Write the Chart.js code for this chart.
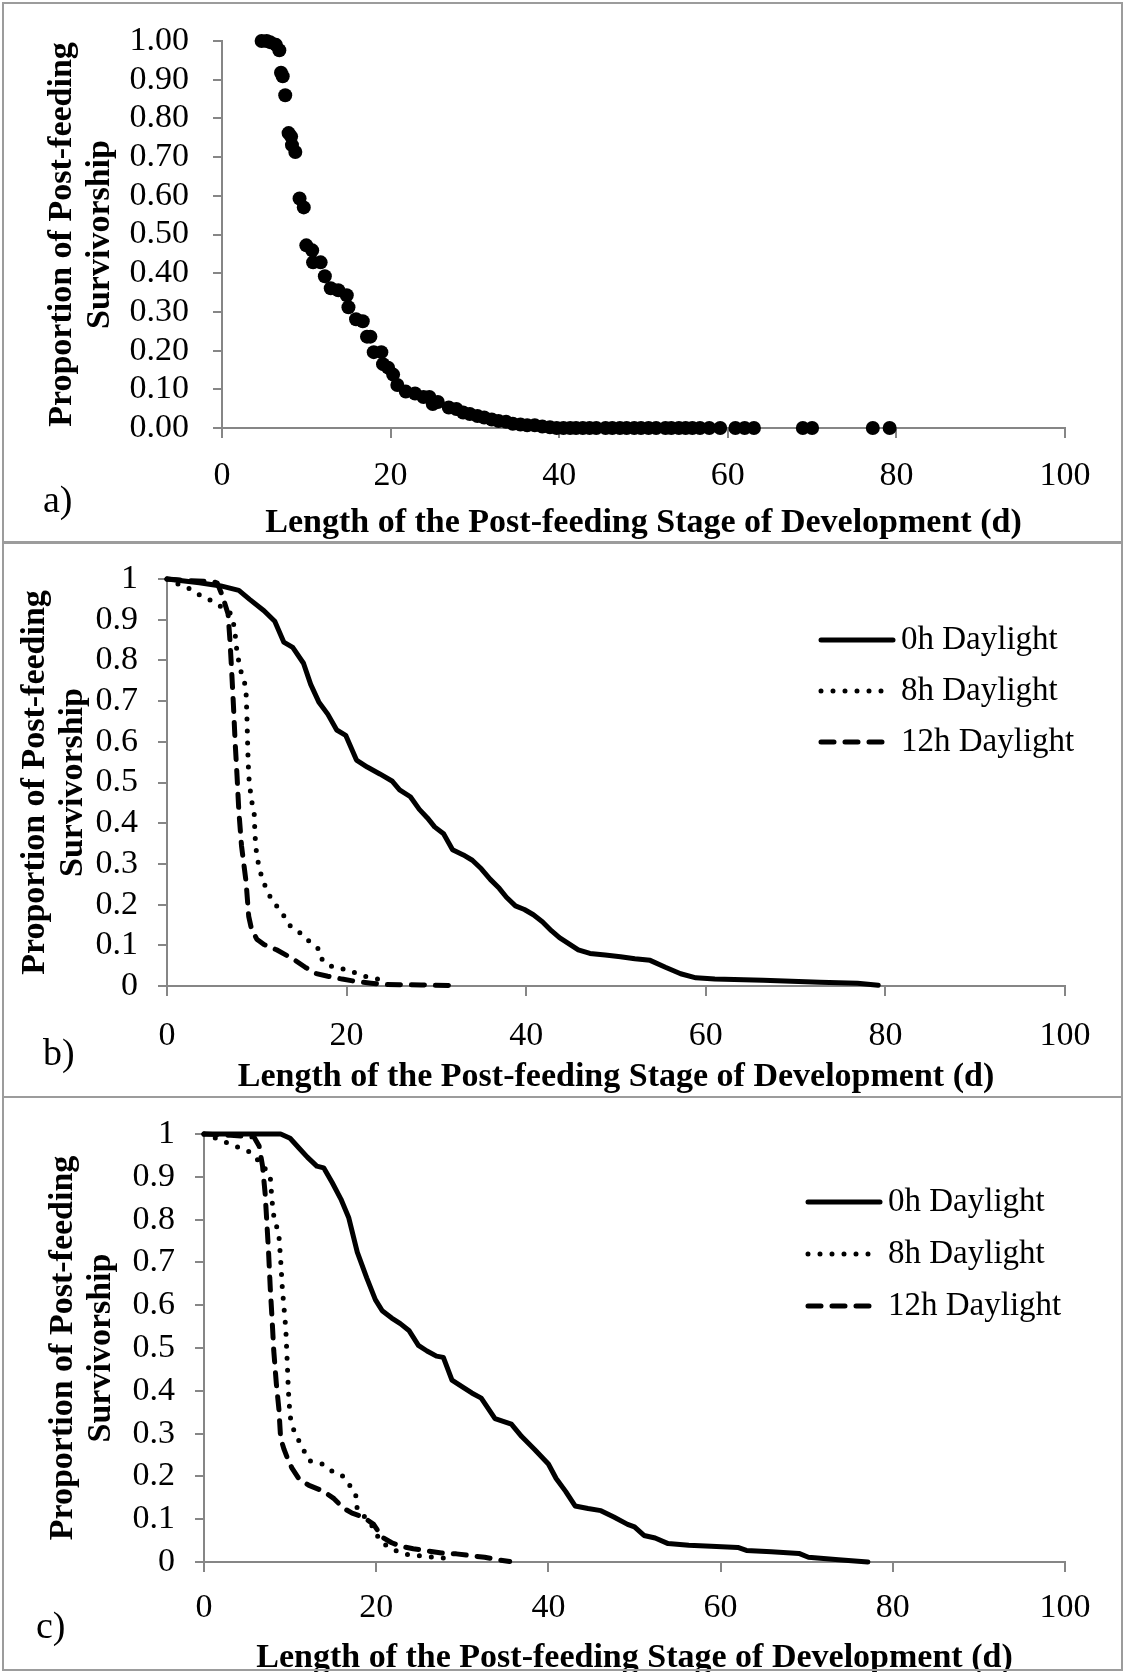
<!DOCTYPE html>
<html>
<head>
<meta charset="utf-8">
<script src="https://cdn.jsdelivr.net/npm/chart.js@4.4.1/dist/chart.umd.min.js"></script>
<style>
  body { margin: 0; background: #fff; }
  #page { position: relative; width: 1125px; height: 1672px; overflow: hidden; font-family: "Liberation Serif", serif; }
  #page canvas { position: absolute; left: 0; }
  .frame { position: absolute; border: 2px solid #9c9c9c; box-sizing: border-box; pointer-events: none; }
  .tag { position: absolute; font-size: 38px; line-height: 38px; color: #000; }
</style>
</head>
<body>
<div id="page">
  <canvas id="chartA" width="1125" height="542" style="top:0"></canvas>
  <canvas id="chartB" width="1125" height="555" style="top:542px"></canvas>
  <canvas id="chartC" width="1125" height="575" style="top:1097px"></canvas>
  <div class="frame" style="left:2px;top:2px;width:1121px;height:542px"></div>
  <div class="frame" style="left:2px;top:541px;width:1121px;height:557px"></div>
  <div class="frame" style="left:2px;top:1096px;width:1121px;height:575px"></div>
  <div class="tag" style="left:43px;top:480px">a)</div>
  <div class="tag" style="left:43px;top:1033px">b)</div>
  <div class="tag" style="left:36px;top:1606px">c)</div>
</div>
<script>
// panel a - individual larvae
const aDays = [4.7, 5.3, 5.7, 6.4, 6.8, 7.0, 7.2, 7.5, 7.9, 8.2, 8.3, 8.7, 9.2, 9.7, 10.0, 10.7, 10.8, 11.7,
  12.2, 12.9, 13.8, 14.8, 15.0, 15.9, 16.7, 17.2, 17.6, 18.0, 18.9, 19.1, 19.7, 20.3, 20.8, 21.8, 22.9,
  23.9, 24.6, 25.0, 25.6, 26.9, 27.8, 28.6, 29.4, 30.3, 31.1, 32.0, 32.8, 33.7, 34.5, 35.4, 36.2, 37.1,
  38.0, 38.9, 39.7, 40.5, 41.3, 42.0, 42.8, 43.6, 44.4, 45.5, 46.3, 47.2, 48.0, 48.9, 49.7, 50.6, 51.5,
  52.6, 53.3, 54.2, 55.0, 55.8, 56.7, 57.8, 59.1, 60.9, 62.0, 63.1, 68.9, 70.0, 77.2, 79.2];
const aSurv = [1.0, 1.0, 0.997, 0.99, 0.976, 0.918, 0.909, 0.86, 0.762, 0.753, 0.731, 0.713, 0.593, 0.57, 0.472,
  0.459, 0.428, 0.428, 0.392, 0.361, 0.356, 0.343, 0.312, 0.281, 0.276, 0.236, 0.236, 0.196, 0.196, 0.165,
  0.156, 0.138, 0.111, 0.094, 0.089, 0.08, 0.08, 0.062, 0.067, 0.053, 0.049, 0.04, 0.036, 0.031, 0.027,
  0.022, 0.018, 0.016, 0.011, 0.009, 0.007, 0.007, 0.004, 0.002, 0, 0, 0, 0, 0, 0, 0, 0, 0, 0, 0, 0, 0,
  0, 0, 0, 0, 0, 0, 0, 0, 0, 0, 0, 0, 0, 0, 0, 0, 0];

// panel b
const bDays0 = [0, 3.6, 6, 8, 9.2, 10.8, 12, 13, 14, 15.2, 16, 16.9, 17.9, 18.9, 19.9, 21.1, 22.3, 23.7, 25.1,
  25.9, 27.1, 28.1, 29, 29.8, 30.8, 31.8, 33, 34, 35, 36, 37, 37.8, 38.8, 39.8, 40.8, 41.8, 42.8, 43.7,
  45.8, 47.1, 48.8, 50.5, 52.1, 53.8, 55.5, 57.2, 58.9, 61, 66.4, 72.7, 76.9, 79.2];
const bSurv0 = [1, 0.991, 0.983, 0.972, 0.95, 0.922, 0.896, 0.845, 0.832, 0.793, 0.741, 0.698, 0.668, 0.629,
  0.616, 0.555, 0.538, 0.521, 0.503, 0.482, 0.465, 0.434, 0.413, 0.391, 0.374, 0.335, 0.322, 0.309, 0.288,
  0.262, 0.24, 0.218, 0.197, 0.188, 0.175, 0.158, 0.136, 0.119, 0.089, 0.08, 0.076, 0.072, 0.067, 0.063,
  0.046, 0.03, 0.02, 0.017, 0.014, 0.0095, 0.007, 0.002];
const bDays8 = [0, 0.9, 2.5, 3.6, 4.8, 5.8, 7, 7.4, 7.6, 7.8, 8.2, 8.6, 8.8, 8.9, 9, 9.1, 9.4, 9.7, 9.8, 10,
  10.6, 11.6, 12.8, 13.8, 15, 16, 17, 17.3, 18.5, 19.9, 21.1, 22.3, 23.5, 23.7];
const bSurv8 = [1, 0.991, 0.976, 0.961, 0.948, 0.935, 0.918, 0.892, 0.862, 0.819, 0.775, 0.75, 0.724, 0.663,
  0.577, 0.516, 0.456, 0.43, 0.37, 0.318, 0.262, 0.214, 0.18, 0.145, 0.128, 0.106, 0.089, 0.063, 0.046,
  0.041, 0.031, 0.022, 0.017, 0.007];
const bDays12 = [0, 2.5, 5.2, 5.6, 6.2, 6.8, 7, 7.2, 7.4, 7.6, 7.8, 8, 8.3, 8.8, 9.1, 9.4, 10, 10.8, 12.2, 14,
  15.4, 16.5, 17.9, 19.5, 21.1, 22.7, 23.9, 25.9, 28.3, 32.2];
const bSurv12 = [1, 0.996, 0.993, 0.99, 0.957, 0.914, 0.853, 0.775, 0.689, 0.594, 0.516, 0.43, 0.344, 0.257,
  0.171, 0.141, 0.115, 0.102, 0.089, 0.067, 0.046, 0.031, 0.024, 0.017, 0.011, 0.007, 0.004, 0.003,
  0.0026, 0.001];

// panel c
const cDays0 = [0, 8.9, 10, 11, 12, 13.1, 13.9, 14.9, 15.9, 16.8, 17.8, 18.9, 19.9, 20.7, 21.8, 22.8, 23.8,
  24.9, 25.9, 27, 27.8, 28.8, 30.1, 31.1, 32.2, 33.8, 35.7, 36.9, 38.4, 40, 40.9, 42, 43.1, 44.6, 46.1,
  47.6, 49.2, 50, 51.1, 52.4, 53.9, 56.3, 58.9, 62, 63, 65.9, 69.1, 70.2, 73.7, 77.1];
const cSurv0 = [1, 1, 0.99, 0.968, 0.946, 0.925, 0.921, 0.886, 0.848, 0.805, 0.724, 0.664, 0.613, 0.587, 0.57,
  0.557, 0.541, 0.506, 0.493, 0.481, 0.478, 0.425, 0.408, 0.395, 0.383, 0.335, 0.322, 0.293, 0.263, 0.229,
  0.195, 0.165, 0.131, 0.125, 0.12, 0.105, 0.088, 0.082, 0.062, 0.056, 0.043, 0.039, 0.037, 0.034, 0.027,
  0.024, 0.02, 0.011, 0.005, 0];
const cDays8 = [0, 1.5, 3.1, 5.2, 6.8, 7.7, 7.9, 8.1, 8.7, 8.9, 9.1, 9.5, 9.7, 9.8, 10, 10.4, 11, 12.2, 13.7,
  14.9, 16, 16.8, 17.6, 17.8, 18.9, 19.7, 20.1, 20.7, 21.8, 23, 24.3, 25.5, 26.8, 28.2, 29];
const cSurv8 = [1, 0.989, 0.976, 0.959, 0.929, 0.899, 0.844, 0.81, 0.763, 0.707, 0.639, 0.545, 0.451, 0.4, 0.34,
  0.31, 0.284, 0.237, 0.229, 0.212, 0.203, 0.182, 0.161, 0.122, 0.101, 0.079, 0.062, 0.045, 0.031, 0.02,
  0.015, 0.014, 0.011, 0.009, 0.005];
const cDays12 = [0, 3.1, 5.8, 6.4, 6.8, 7.1, 7.3, 7.5, 7.7, 7.9, 8.1, 8.4, 8.7, 8.9, 9.3, 9.8, 10.2, 11, 12.2,
  13.9, 15.1, 16.2, 17.2, 18.5, 19.7, 20.7, 21.8, 22.8, 24.3, 25.9, 27.6, 29.3, 30.9, 32.6, 34.2, 35.5];
const cSurv12 = [1, 0.997, 0.993, 0.972, 0.925, 0.861, 0.793, 0.724, 0.639, 0.57, 0.494, 0.417, 0.357, 0.289,
  0.263, 0.237, 0.22, 0.195, 0.179, 0.165, 0.148, 0.126, 0.114, 0.105, 0.088, 0.058, 0.045, 0.037, 0.031,
  0.026, 0.021, 0.019, 0.015, 0.011, 0.005, 0.001];

const seriesLabels = ["0h Daylight", "8h Daylight", "12h Daylight"];
const xTitle = "Length of the Post-feeding Stage of Development (d)";
const yTitle = ["Proportion of Post-feeding", "Survivorship"];

const FONT = '"Liberation Serif", serif';
const AXIS_GREY = "#868686";
Chart.defaults.font.family = FONT;
Chart.defaults.color = "#000";

const toPoints = (xs, ys) => xs.map((x, i) => ({ x: x, y: ys[i] }));

// line looks shared by panel b and c
const lineStyles = [
  { borderDash: [] },
  { borderDash: [0, 12] },
  { borderDash: [13, 11] },
];

const makeLines = (sets) => sets.map((s, i) => ({
  label: seriesLabels[i],
  data: toPoints(s[0], s[1]),
  showLine: true,
  borderColor: "#000",
  borderWidth: 5,
  borderCapStyle: "round",
  borderJoinStyle: "round",
  borderDash: lineStyles[i].borderDash,
  pointRadius: 0,
  tension: 0,
  clip: false,
}));

// draws the legend inside the plot, like the excel one
const lineLegend = {
  id: "lineLegend",
  afterDraw(chart, args, opts) {
    if (opts.x === undefined) return;
    const ctx = chart.ctx;
    chart.data.datasets.forEach((ds, i) => {
      const y = opts.top + i * opts.gap;
      ctx.save();
      ctx.strokeStyle = ds.borderColor;
      ctx.lineWidth = ds.borderWidth;
      ctx.lineCap = "round";
      ctx.setLineDash(ds.borderDash || []);
      ctx.beginPath();
      ctx.moveTo(opts.x, y);
      ctx.lineTo(opts.x + opts.len, y);
      ctx.stroke();
      ctx.setLineDash([]);
      ctx.font = "33px " + FONT;
      ctx.fillStyle = "#000";
      ctx.textBaseline = "middle";
      ctx.fillText(ds.label, opts.x + opts.len + 8, y);
      ctx.restore();
    });
  },
};

const makeOptions = (p) => ({
  responsive: false,
  animation: false,
  events: [],
  layout: { padding: { left: 0, top: p.top, right: 1125 - 1065, bottom: 0 } },
  plugins: {
    legend: { display: false },
    tooltip: { enabled: false },
    lineLegend: p.legend || {},
  },
  scales: {
    x: {
      type: "linear",
      min: 0,
      max: 100,
      ticks: { stepSize: 20, padding: p.xTickPad, font: { size: 34 }, color: "#000" },
      grid: { drawOnChartArea: false, drawTicks: true, tickLength: 10, color: AXIS_GREY, lineWidth: 2 },
      border: { color: AXIS_GREY, width: 2 },
      title: { display: true, text: xTitle, font: { size: 34, weight: "bold", lineHeight: 1 }, padding: { top: 0, bottom: p.xTitlePad } },
      afterFit: (scale) => { scale.height = p.height - p.bottom; },
    },
    y: {
      type: "linear",
      min: 0,
      max: 1,
      ticks: {
        stepSize: 0.1,
        autoSkip: false,
        padding: p.yTickPad,
        font: { size: 34, lineHeight: 1 },
        color: "#000",
        callback: p.yFormat,
      },
      grid: { drawOnChartArea: false, drawTicks: true, tickLength: 9, color: AXIS_GREY, lineWidth: 2 },
      border: { color: AXIS_GREY, width: 2 },
      title: { display: true, text: yTitle, font: { size: 34, weight: "bold", lineHeight: 1.12 }, padding: { top: p.yTitlePad, bottom: 0 } },
      afterFit: (scale) => { scale.width = p.left; },
    },
  },
});

new Chart(document.getElementById("chartA"), {
  type: "scatter",
  data: {
    datasets: [{
      label: "Survivorship",
      data: toPoints(aDays, aSurv),
      pointRadius: 7,
      pointBackgroundColor: "#000",
      pointBorderWidth: 0,
      clip: false,
    }],
  },
  options: makeOptions({
    height: 542, top: 38, bottom: 428, left: 222,
    xTickPad: 18, xTitlePad: 2, yTickPad: 24, yTitlePad: 43,
    yFormat: (v) => v.toFixed(2),
  }),
});

new Chart(document.getElementById("chartB"), {
  type: "scatter",
  data: { datasets: makeLines([[bDays0, bSurv0], [bDays8, bSurv8], [bDays12, bSurv12]]) },
  options: makeOptions({
    height: 555, top: 30, bottom: 444, left: 167,
    xTickPad: 20, xTitlePad: 3, yTickPad: 20, yTitlePad: 16,
    yFormat: (v) => String(+v.toFixed(1)),
    legend: { x: 821, len: 72, top: 98, gap: 51 },
  }),
  plugins: [lineLegend],
});

new Chart(document.getElementById("chartC"), {
  type: "scatter",
  data: { datasets: makeLines([[cDays0, cSurv0], [cDays8, cSurv8], [cDays12, cSurv12]]) },
  options: makeOptions({
    height: 575, top: 33, bottom: 465, left: 204,
    xTickPad: 16, xTitlePad: -3, yTickPad: 20, yTitlePad: 44,
    yFormat: (v) => String(+v.toFixed(1)),
    legend: { x: 808, len: 72, top: 105, gap: 52 },
  }),
  plugins: [lineLegend],
});
</script>
</body>
</html>
